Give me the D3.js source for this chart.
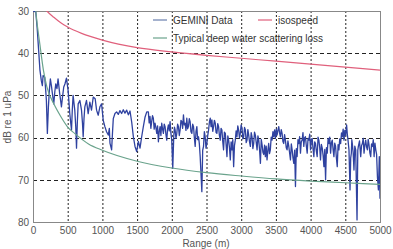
<!DOCTYPE html>
<html><head><meta charset="utf-8">
<script src="https://cdn.jsdelivr.net/npm/d3@7"></script>
<style>html,body{margin:0;padding:0;background:#fff;}svg{display:block;font-family:"Liberation Sans",Arial,sans-serif;}</style>
</head><body>
<svg id="c" width="393" height="249"></svg>
<script>
// ---- data ----
const xTicks = [0,500,1000,1500,2000,2500,3000,3500,4000,4500,5000];
const yTicks = [30,40,50,60,70,80];
const legendLabels = ["GEMINI Data","isospeed","Typical deep water scattering loss"];

const geminiRange = [0,40,60,80,100,120,135,145,169,183,193,207,222,236,250,265,280,299,314,328,345,361,385,410,425,443,460,482,506,530,544,555,566,578,602,616,627,640,651,675,699,713,723,735,747,771,795,819,843,868,896,916,940,964,988,1012,1036,1060,1085,1100,1109,1133,1145,1157,1181,1205,1229,1253,1277,1301,1325,1350,1374,1398,1422,1446,1470,1494,1518,1542,1566,1590,1615,1639,
1662,1674,1686,1698,1710,1722,1734,1746,1758,1770,1783,1795,1807,1819,1831,1843,1855,1867,1879,1891,1903,1915,1927,1939,1951,1963,1975,1987,1999,2014,2028,2038,2048,2060,2072,2084,2096,2108,2120,2132,2144,2156,2168,2180,2192,2204,2216,2228,2240,2252,2264,2276,2289,2301,2313,2325,2337,2349,2361,2373,2385,2397,2409,2433,2445,2457,2469,2481,2493,2505,2517,2530,2542,2554,2566,2578,2590,2602,2614,2626,2638,2650,2662,2674,2686,2698,2710,2722,2734,2746,2758,2771,2783,2795,2807,2819,2831,2843,2855,2867,2879,2891,2903,2915,2927,2939,2951,2963,2975,2987,2999,3012,3024,3036,3048,3060,3072,3084,3096,3108,3120,3132,3144,3156,3168,3180,3192,3204,3216,3229,3241,3253,3265,3277,3289,3301,3313,3325,3337,3348,3360,3372,3384,3396,3408,3420,3432,3445,3457,3469,3481,3493,3505,3517,3529,3541,3553,3565,3577,3589,3601,3613,3625,3637,3649,3661,3673,3686,3698,3710,3722,3734,3746,3758,3770,3782,3794,3806,3818,3830,3842,3854,3866,3878,3890,3902,3914,3926,3938,3951,3963,3975,3987,3999,4011,4023,4035,4047,4059,4071,4083,4095,4107,4119,4131,4143,4155,4168,4180,4192,4204,4216,4228,4240,4252,4264,4276,4288,4300,4312,4324,4336,4348,4360,4372,4384,4396,4408,4420,4433,4445,4457,4469,4481,4493,4505,4519,4529,4539,4553,4568,4578,4587,4594,4601,4613,4625,4637,4650,4669,4680,4688,4705,4722,4734,4746,4758,4770,4782,4794,4806,4818,4830,4842,4854,4866,4878,4891,4903,4915,4927,4939,4951,4963,4977,4990,5000];
const geminiDb = [30,30.2,34,39,44,46.5,47.7,45.3,45.7,48.8,51.2,59.0,52.7,48.8,46.1,47.7,49.6,52.0,49.2,47.3,48.4,46.1,49.6,52.7,50.4,48.0,47.3,45.9,48.8,54.3,56.6,58.2,53.5,50.0,53.5,57.4,62.5,55.9,52.0,51.2,53.5,56.6,59.8,55.5,52.7,51.2,54.3,51.6,53.5,50.4,50.8,53.5,54.7,52.7,52.0,55.9,57.4,58.6,59.4,57.8,61.3,62.9,59.0,55.5,54.3,53.9,54.5,53.6,54.3,53.4,54.2,53.5,54.6,53.7,56.3,59.8,62.1,63.3,60.9,62.5,59.8,57.4,55.1,53.9,
53.9,56.5,55.0,57.8,56.2,54.8,55.4,58.0,56.6,57.5,59.0,57.2,61.0,58.5,57.4,59.5,56.6,58.0,59.0,56.8,57.4,59.2,60.6,58.0,57.0,58.4,56.2,58.9,60.6,67.3,59.8,57.5,58.2,60.2,59.0,56.8,57.4,59.5,58.2,55.9,56.2,57.8,54.6,57.0,56.6,58.3,55.4,57.9,57.4,55.5,56.2,58.6,59.0,56.8,57.4,60.0,62.1,58.5,57.4,60.5,59.8,61.5,64.5,72.8,63.0,62.1,58.6,59.8,62.5,61.4,59.6,58.2,56.3,55.4,57.4,55.8,58.5,57.4,55.9,56.6,58.8,59.0,56.7,57.4,59.5,60.6,57.8,58.2,60.9,62.9,58.7,59.0,61.8,64.5,59.6,60.6,62.4,65.3,61.0,62.9,60.5,66.9,61.9,60.6,58.4,59.8,57.2,58.2,60.1,59.0,57.0,57.8,60.3,59.8,57.6,58.2,61.2,60.6,58.1,59.4,61.0,62.1,58.8,59.8,62.6,61.4,58.7,59.4,61.1,62.9,59.6,60.6,63.0,66.1,60.4,61.7,63.5,64.0,61.8,64.5,62.0,65.3,63.1,61.4,63.8,62.9,59.9,60.6,58.6,59.8,58.2,60.2,58.0,59.4,58.3,57.4,58.9,59.8,58.1,59.0,60.9,61.4,59.3,60.6,62.4,62.9,60.8,62.1,63.7,65.3,61.5,62.9,64.8,66.1,63.0,71.6,62.6,64.5,60.5,61.4,59.8,63.7,61.0,60.6,58.8,62.1,60.0,59.8,61.9,63.7,60.2,60.6,59.2,62.9,60.5,60.2,62.7,64.5,61.0,61.4,63.2,64.5,59.9,60.6,62.3,65.3,61.6,62.5,64.2,66.9,62.8,70.0,62.4,63.7,60.2,61.4,59.9,63.7,61.2,60.6,62.8,64.5,61.3,62.1,64.9,66.9,61.7,62.9,60.3,61.4,58.9,59.8,58.0,60.6,58.3,59.4,57.0,59.2,60.6,62.9,72.4,64.8,63.7,60.5,61.4,63.5,67.7,62.0,62.9,79.5,63.0,62.1,60.8,64.5,61.9,61.4,60.2,63.7,61.7,60.6,62.2,62.9,60.4,61.8,63.6,64.5,61.5,62.1,60.5,64.5,61.3,62.9,64.0,69.3,72.4,64.5,74.5];

const isoRange = [150,200,300,400,500,700,1000,1500,2000,2500,3000,3500,4000,4500,5000];
const isoDb    = [29,30,31.5,32.8,33.8,35.3,36.9,38.7,39.7,40.5,41.2,41.9,42.6,43.3,44];

const scatRange = [30,40,100,150,200,300,400,500,600,800,1000,1500,2000,2500,3000,3500,4000,4500,5000];
const scatDb    = [28,30,38,44,48,52,55,57.5,59,61.5,63,65.6,67.2,68.3,69.1,69.8,70.3,70.7,71.1];

// ---- layout ----
const L = 33, R = 380, T = 11, B = 222;
const svg = d3.select("#c");
const x = d3.scaleLinear().domain([0,5000]).range([L,R]);
const y = d3.scaleLinear().domain([30,80]).range([T,B]);

svg.append("defs").append("clipPath").attr("id","clip")
  .append("rect").attr("x",L).attr("y",T).attr("width",R-L).attr("height",B-T);

// grid
const g = svg.append("g");
g.selectAll("line.v").data(xTicks.slice(1,-1)).join("line")
  .attr("x1",d=>x(d)+0.5).attr("x2",d=>x(d)+0.5).attr("y1",T).attr("y2",B)
  .attr("stroke","#222").attr("stroke-width",1).attr("stroke-dasharray","2,2");
g.selectAll("line.h").data(yTicks.slice(1,-1)).join("line")
  .attr("y1",d=>Math.round(y(d))+0.5).attr("y2",d=>Math.round(y(d))+0.5).attr("x1",L).attr("x2",R)
  .attr("stroke","#222").attr("stroke-width",1).attr("stroke-dasharray","4,3");

// frame
svg.append("rect").attr("x",L+0.5).attr("y",T+0.5).attr("width",R-L).attr("height",B-T)
  .attr("fill","none").attr("stroke","#888").attr("stroke-width",1);

// axes labels via d3 axes
const xAxis = svg.append("g").attr("transform",`translate(0,${B})`)
  .call(d3.axisBottom(x).tickValues(xTicks).tickSize(0).tickPadding(5).tickFormat(d3.format("d")));
const yAxis = svg.append("g").attr("transform",`translate(${L},0)`)
  .call(d3.axisLeft(y).tickValues(yTicks).tickSize(0).tickPadding(4).tickFormat(d3.format("d")));
[xAxis,yAxis].forEach(a=>{
  a.select(".domain").remove();
  a.selectAll("text").attr("fill","#555").style("font-size","10px").style("font-family","'Liberation Sans',Arial,sans-serif");
});

svg.append("text").attr("x",206).attr("y",247).attr("text-anchor","middle")
  .attr("fill","#555").style("font-size","10px").text("Range (m)");
svg.append("text").attr("transform","translate(11,117) rotate(-90)").attr("text-anchor","middle")
  .attr("fill","#555").style("font-size","10px").text("dB re 1 uPa");

// lines
const plot = svg.append("g").attr("clip-path","url(#clip)");
const lineG = d3.line().x(d=>x(d[0])).y(d=>y(d[1]));
const lineC = d3.line().x(d=>x(d[0])).y(d=>y(d[1])).curve(d3.curveMonotoneX);

plot.append("path").datum(d3.zip(geminiRange,geminiDb)).attr("d",lineG)
  .attr("fill","none").attr("stroke","#2f42a0").attr("stroke-width",1.3).attr("stroke-linejoin","round");
plot.append("path").datum(d3.zip(scatRange,scatDb)).attr("d",lineC)
  .attr("fill","none").attr("stroke","#6aa38c").attr("stroke-width",1.2);
plot.append("path").datum(d3.zip(isoRange,isoDb)).attr("d",lineC)
  .attr("fill","none").attr("stroke","#e0607c").attr("stroke-width",1.2);

// legend
const legColors = ["#6a7fae","#e0607c","#6aa38c"];
const legPos = [[153,20],[258,20],[153,38]];
const leg = svg.append("g");
legendLabels.forEach((t,i)=>{
  const [lx,ly] = legPos[i];
  leg.append("line").attr("x1",lx).attr("x2",lx+14).attr("y1",ly).attr("y2",ly)
    .attr("stroke",legColors[i]).attr("stroke-width",1.2);
  leg.append("text").attr("x",lx+20).attr("y",ly+3.5).attr("fill","#333")
    .style("font-size","10px").text(t);
});
</script>
</body></html>
